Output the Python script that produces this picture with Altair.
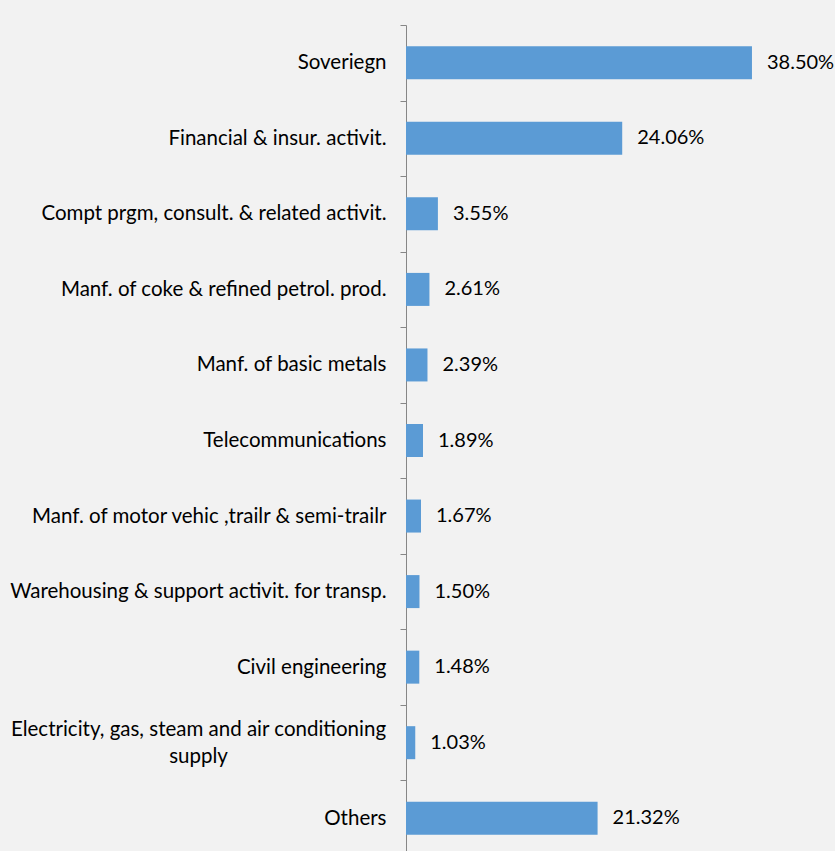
import altair as alt
import pandas as pd

categories = [
    "Soveriegn",
    "Financial & insur. activit.",
    "Compt prgm, consult. & related activit.",
    "Manf. of coke & refined petrol. prod.",
    "Manf. of basic metals",
    "Telecommunications",
    "Manf. of motor vehic ,trailr & semi-trailr",
    "Warehousing & support activit. for transp.",
    "Civil engineering",
    "Electricity, gas, steam and air conditioning supply",
    "Others",
]
values = [38.50, 24.06, 3.55, 2.61, 2.39, 1.89, 1.67, 1.50, 1.48, 1.03, 21.32]

df = pd.DataFrame({"category": categories, "value": values})

FONT = "Lato"
FS = 20.5
VFS = 20
LONG = "Electricity, gas, steam and air conditioning supply"
IS_LONG = f"datum.value == '{LONG}'"

y_enc = alt.Y(
    "category:N",
    sort=categories,
    title=None,
    scale=alt.Scale(paddingInner=0, paddingOuter=0),
    axis=alt.Axis(
        domainColor="#868686",
        tickColor="#868686",
        tickSize=6,
        tickBand="extent",
        labelFont=FONT,
        labelFontSize=FS,
        labelColor="#000000",
        labelLimit=0,
        labelLineHeight=27,
        labelExpr=f"{IS_LONG} ? ['Electricity, gas, steam and air conditioning', 'supply'] : datum.label",
        labelAlign={"condition": {"test": IS_LONG, "value": "center"}, "value": "right"},
        labelPadding={"condition": {"test": IS_LONG, "value": 202}, "value": 14},
        labelOffset={"condition": {"test": IS_LONG, "value": -13}, "value": 0},
    ),
)

x_enc = alt.X(
    "value:Q",
    axis=None,
    scale=alt.Scale(domain=[0, 47.74], nice=False),
)

bars = alt.Chart(df).mark_bar(color="#5b9bd5", size=33).encode(x=x_enc, y=y_enc)

labels = (
    alt.Chart(df)
    .transform_calculate(lbl="format(datum.value, '.2f') + '%'")
    .mark_text(align="left", baseline="middle", dx=15, font=FONT, fontSize=VFS, color="#000000")
    .encode(x=x_enc, y=y_enc, text="lbl:N")
)

chart = (
    alt.layer(bars, labels)
    .properties(
        width=429,
        height=831,
        autosize=alt.AutoSizeParams(type="none"),
        padding={"left": 406, "top": 25, "right": 0, "bottom": 0},
        background="#f2f2f2",
    )
    .configure_view(stroke=None)
)

chart.save("out.html", embed_options={"renderer": "svg", "actions": False})
